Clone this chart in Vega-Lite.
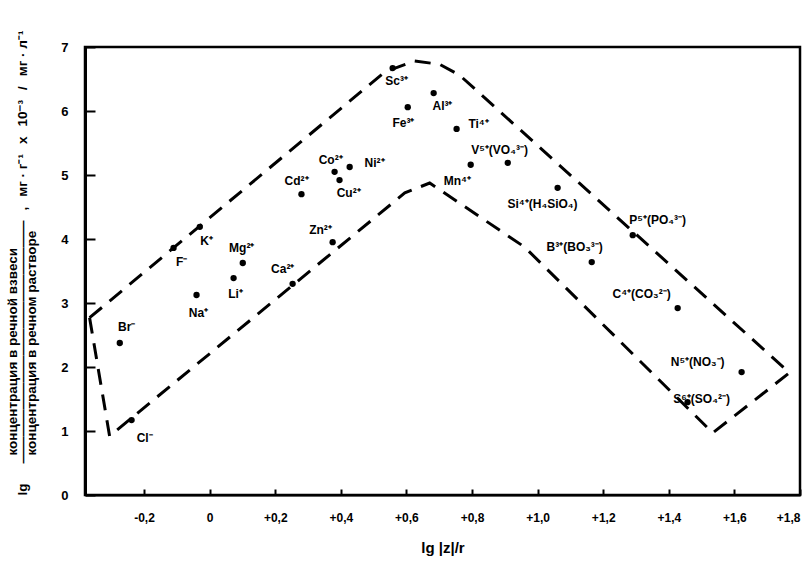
{
  "$schema": "https://vega.github.io/schema/vega-lite/v6.json",
  "width": 715,
  "height": 448,
  "autosize": {"type": "none"},
  "padding": {"left": 85, "top": 47, "right": 11, "bottom": 78},
  "background": "white",
  "config": {
    "view": {"stroke": "black", "strokeWidth": 2.5},
    "font": "Liberation Sans"
  },
  "datasets": {
    "pts": [
      {"ion": "Br⁻", "x": -0.274, "y": 2.375, "lx": -0.253, "ly": 2.62},
      {"ion": "Cl⁻", "x": -0.238, "y": 1.17, "lx": -0.198, "ly": 0.89},
      {"ion": "F⁻", "x": -0.110, "y": 3.86, "lx": -0.085, "ly": 3.64},
      {"ion": "K⁺", "x": -0.030, "y": 4.19, "lx": -0.009, "ly": 3.97},
      {"ion": "Na⁺", "x": -0.040, "y": 3.125, "lx": -0.034, "ly": 2.84},
      {"ion": "Li⁺", "x": 0.073, "y": 3.39, "lx": 0.079, "ly": 3.14},
      {"ion": "Mg²⁺", "x": 0.101, "y": 3.625, "lx": 0.098, "ly": 3.86},
      {"ion": "Ca²⁺", "x": 0.253, "y": 3.30, "lx": 0.223, "ly": 3.53},
      {"ion": "Zn²⁺", "x": 0.375, "y": 3.95, "lx": 0.338, "ly": 4.14},
      {"ion": "Cd²⁺", "x": 0.280, "y": 4.70, "lx": 0.265, "ly": 4.91},
      {"ion": "Co²⁺", "x": 0.381, "y": 5.05, "lx": 0.369, "ly": 5.23},
      {"ion": "Cu²⁺", "x": 0.396, "y": 4.92, "lx": 0.424, "ly": 4.72},
      {"ion": "Ni²⁺", "x": 0.427, "y": 5.125, "lx": 0.503, "ly": 5.19},
      {"ion": "Sc³⁺", "x": 0.558, "y": 6.67, "lx": 0.570, "ly": 6.47},
      {"ion": "Fe³⁺", "x": 0.604, "y": 6.06, "lx": 0.591, "ly": 5.81},
      {"ion": "Al³⁺", "x": 0.683, "y": 6.28, "lx": 0.710, "ly": 6.08},
      {"ion": "Ti⁴⁺", "x": 0.753, "y": 5.72, "lx": 0.820, "ly": 5.80},
      {"ion": "Mn⁴⁺", "x": 0.796, "y": 5.16, "lx": 0.755, "ly": 4.91},
      {"ion": "V⁵⁺(VO₄³⁻)", "x": 0.909, "y": 5.19, "lx": 0.884, "ly": 5.39},
      {"ion": "Si⁴⁺(H₄SiO₄)", "x": 1.061, "y": 4.80, "lx": 1.015, "ly": 4.55},
      {"ion": "P⁵⁺(PO₄³⁻)", "x": 1.290, "y": 4.06, "lx": 1.366, "ly": 4.30},
      {"ion": "B³⁺(BO₃³⁻)", "x": 1.165, "y": 3.64, "lx": 1.113, "ly": 3.875},
      {"ion": "C⁴⁺(CO₃²⁻)", "x": 1.427, "y": 2.92, "lx": 1.317, "ly": 3.14},
      {"ion": "N⁵⁺(NO₃⁻)", "x": 1.622, "y": 1.92, "lx": 1.488, "ly": 2.08},
      {"ion": "S⁶⁺(SO₄²⁻)", "x": 1.457, "y": 1.45, "lx": 1.50, "ly": 1.50}
    ],
    "env": [
      {"i": 0, "x": -0.366, "y": 2.77},
      {"i": 1, "x": 0.534, "y": 6.61},
      {"i": 2, "x": 0.625, "y": 6.78},
      {"i": 3, "x": 0.701, "y": 6.73},
      {"i": 4, "x": 0.762, "y": 6.56},
      {"i": 5, "x": 1.768, "y": 1.91},
      {"i": 6, "x": 1.534, "y": 0.97},
      {"i": 7, "x": 0.960, "y": 3.875},
      {"i": 8, "x": 0.671, "y": 4.875},
      {"i": 9, "x": 0.595, "y": 4.72},
      {"i": 10, "x": -0.305, "y": 0.92},
      {"i": 11, "x": -0.366, "y": 2.77}
    ]
  },
  "encoding": {
    "x": {
      "type": "quantitative",
      "scale": {"domain": [-0.38, 1.8], "nice": false, "zero": false},
      "axis": {
        "values": [-0.2, 0, 0.2, 0.4, 0.6, 0.8, 1.0, 1.2, 1.4, 1.6, 1.8],
        "labelExpr": "datum.value == 0 ? '0' : (datum.value > 0 ? '+' : '-') + replace(format(abs(datum.value), '.1f'), '.', ',')",
        "title": "lg |z|/r",
        "titleFont": "Liberation Sans",
        "titleFontSize": 15,
        "titleFontWeight": "bold",
        "titlePadding": 17,
        "labelFont": "Liberation Sans",
        "labelFontSize": 12,
        "labelFontWeight": "bold",
        "labelColor": "black",
        "labelPadding": 23,
        "tickSize": -6,
        "tickWidth": 2,
        "tickColor": "black",
        "domainColor": "black",
        "domainWidth": 2,
        "grid": false
      }
    },
    "y": {
      "type": "quantitative",
      "scale": {"domain": [0, 7], "nice": false},
      "axis": {
        "values": [0, 1, 2, 3, 4, 5, 6, 7],
        "format": "d",
        "title": ["\u2800\u2800\u2800\u2800концентрация в речной взвеси", "lg\u2800\u2800——————————————————\u2800,\u2800мг · г⁻¹\u2800x\u280010⁻³\u2800/\u2800мг · л⁻¹", "\u2800\u2800\u2800\u2800концентрация в речном растворе"],
        "titleFont": "Liberation Sans",
        "titleFontSize": 13.5,
        "titleFontWeight": "bold",
        "titleAnchor": "start",
        "titleAlign": "left",
        "titleLineHeight": 9.5,
        "titlePadding": 22,
        "labelFont": "Liberation Sans",
        "labelFontSize": 13,
        "labelFontWeight": "bold",
        "labelColor": "black",
        "labelPadding": 27,
        "tickSize": -10,
        "tickWidth": 2,
        "tickColor": "black",
        "domainColor": "black",
        "domainWidth": 3,
        "grid": false
      }
    }
  },
  "layer": [
    {
      "data": {"name": "env"},
      "mark": {"type": "line", "color": "black", "strokeWidth": 3, "strokeDash": [16, 10], "strokeCap": "butt"},
      "encoding": {
        "x": {"field": "x"},
        "y": {"field": "y"},
        "order": {"field": "i", "type": "quantitative"}
      }
    },
    {
      "data": {"name": "pts"},
      "mark": {"type": "circle", "color": "black", "opacity": 1, "size": 40},
      "encoding": {
        "x": {"field": "x"},
        "y": {"field": "y"}
      }
    },
    {
      "data": {"name": "pts"},
      "mark": {"type": "text", "font": "Liberation Sans", "fontSize": 12, "fontWeight": "bold", "color": "black", "align": "center", "baseline": "middle"},
      "encoding": {
        "x": {"field": "lx", "type": "quantitative"},
        "y": {"field": "ly", "type": "quantitative"},
        "text": {"field": "ion"}
      }
    }
  ]
}
